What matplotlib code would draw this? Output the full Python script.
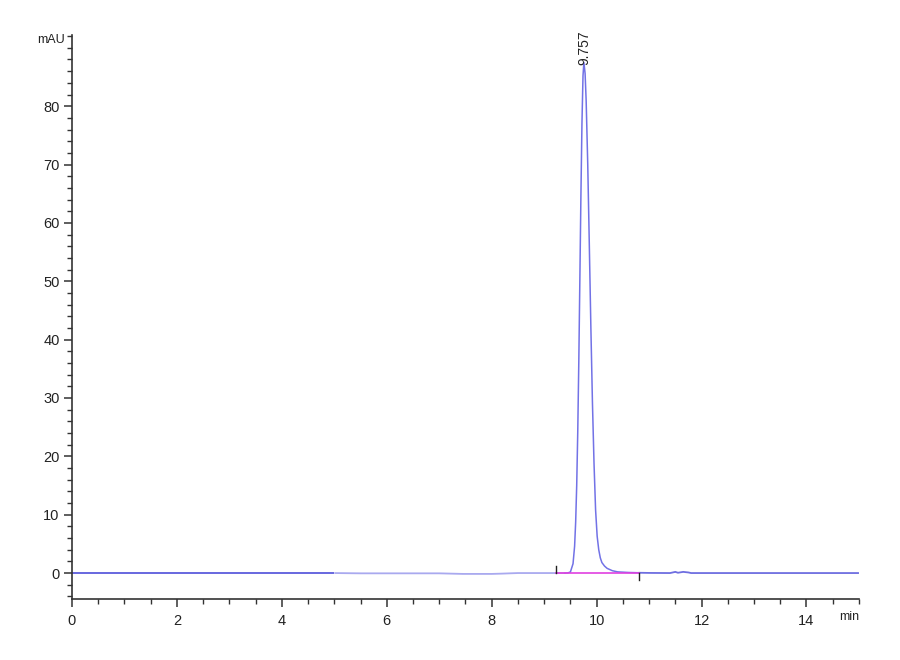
import matplotlib
matplotlib.use("Agg")
import matplotlib.pyplot as plt
from matplotlib.ticker import MultipleLocator
import numpy as np

plt.rcParams['font.family'] = ['Liberation Sans', 'DejaVu Sans']

# Chromatogram trace (time in min, signal in mAU)
time_min = [0.0, 1.0, 2.0, 3.0, 4.0, 5.0, 5.5, 6.0, 7.0, 7.45, 7.6, 8.0, 8.19, 8.5, 9.0, 9.2,
            9.40, 9.45, 9.50, 9.55, 9.58, 9.60, 9.62, 9.64, 9.66, 9.68, 9.70, 9.72, 9.74, 9.757,
            9.78, 9.80, 9.83, 9.86, 9.89, 9.92, 9.95, 9.98, 10.01, 10.04, 10.07, 10.10, 10.15,
            10.20, 10.30, 10.40, 10.60, 10.80, 11.0, 11.4, 11.5, 11.55, 11.65, 11.75, 11.8,
            12.0, 13.0, 14.0, 15.0]
signal_mau = [0.0, 0.0, 0.0, 0.0, 0.0, 0.0, -0.05, -0.05, -0.05, -0.15, -0.15, -0.15, -0.1, 0.0, 0.0, 0.0,
              0.0, 0.02, 0.18, 1.6, 4.6, 8.7, 15.0, 24.2, 36.2, 50.2, 64.5, 77.0, 85.2, 87.5,
              85.6, 81.0, 70.2, 56.4, 42.1, 29.2, 18.8, 10.8, 6.3, 4.0, 2.6, 1.8, 1.2,
              0.8, 0.4, 0.2, 0.1, 0.05, 0.02, 0.0, 0.2, 0.05, 0.2, 0.1, 0.0,
              0.0, 0.0, 0.0, 0.0]

peak_time = 9.757
peak_label = "9.757"
integration_start = 9.22
integration_end = 10.80

x_ticks = [0, 2, 4, 6, 8, 10, 12, 14]
y_ticks = [0, 10, 20, 30, 40, 50, 60, 70, 80]

t = np.array(time_min)
s = np.array(signal_mau)

fig = plt.figure(figsize=(9, 6.6), dpi=100)
ax = fig.add_axes([0.08, 0.0924, 0.8744, 0.8546])

# trace, with slightly different shading on baseline regions as in the reference
m1 = t <= 5.0
m2 = (t >= 5.0) & (t <= 9.4)
m3 = (t >= 9.4) & (t <= 10.8)
m4 = t >= 10.8
ax.plot(t[m1], s[m1], color='#5c5cdc', lw=1.3, solid_capstyle='butt')
ax.plot(t[m2], s[m2], color='#a9a9ef', lw=1.3, solid_capstyle='butt')
ax.plot(t[m4], s[m4], color='#6e6ee0', lw=1.3, solid_capstyle='butt')
ax.plot(t[m3], s[m3], color='#7272e6', lw=1.1)

# integration baseline and markers
ax.plot([integration_start, integration_end], [0, 0], color='#e040e0', lw=1.2)
ax.plot([integration_start, integration_start], [0, 1.2], color='#222222', lw=1.0)
ax.plot([integration_end, integration_end], [0, -1.2], color='#222222', lw=1.0)

# peak label
ax.text(peak_time, 87.0, peak_label, rotation=90, ha='center', va='bottom',
        fontsize=10, color='#222222')

ax.set_xlim(0, 15)
ax.set_ylim(-4.45, 92.2)
ax.set_xticks(x_ticks)
ax.set_yticks(y_ticks)
ax.xaxis.set_minor_locator(MultipleLocator(0.5))
ax.yaxis.set_minor_locator(MultipleLocator(2))

for side in ['top', 'right']:
    ax.spines[side].set_visible(False)
for side in ['left', 'bottom']:
    ax.spines[side].set_color('#333333')
    ax.spines[side].set_linewidth(1.2)

ax.tick_params(axis='both', which='major', direction='out', length=6, width=1.1,
               colors='#333333', labelsize=10.5, labelcolor='#222222')
ax.tick_params(axis='both', which='minor', direction='out', length=3.5, width=1.0,
               colors='#333333')
ax.tick_params(axis='x', which='major', pad=5)
ax.tick_params(axis='y', which='major', pad=3)

fig.text(0.072, 0.94, "mAU", ha='right', va='center', fontsize=9, color='#222222')
fig.text(0.955, 0.065, "min", ha='right', va='center', fontsize=9, color='#222222')

fig.savefig("out.png", dpi=100)
